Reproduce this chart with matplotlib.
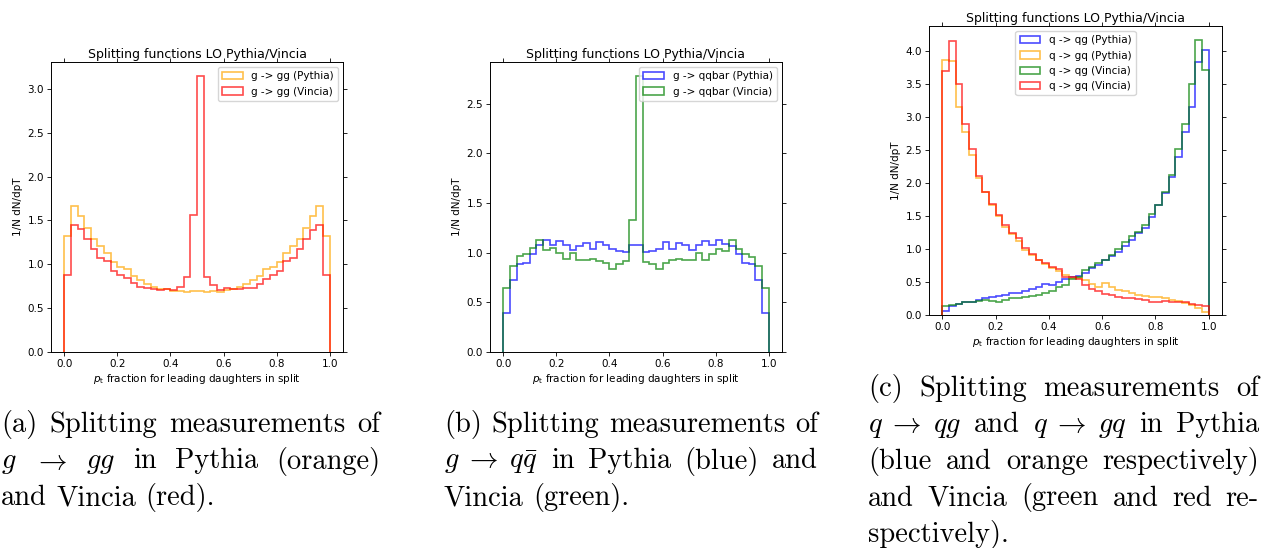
import numpy as np
import matplotlib
matplotlib.use("Agg")
import matplotlib.pyplot as plt
from matplotlib.ticker import MultipleLocator

# 40 bins in pt fraction
edges = np.linspace(0.0, 1.0, 41)
centers = 0.5 * (edges[:-1] + edges[1:])

# (a) g -> gg
gg_pythia = [1.32, 1.67, 1.55, 1.41, 1.29, 1.21, 1.13, 1.03, 0.97, 0.95,
             0.87, 0.82, 0.78, 0.74, 0.72, 0.72, 0.70, 0.70, 0.69, 0.70,
             0.70, 0.69, 0.70, 0.69, 0.71, 0.72, 0.74, 0.78, 0.82, 0.87,
             0.95, 0.97, 1.03, 1.13, 1.21, 1.29, 1.41, 1.55, 1.67, 1.32]
gg_vincia = [0.88, 1.45, 1.40, 1.29, 1.18, 1.07, 1.04, 0.92, 0.88, 0.84,
             0.79, 0.74, 0.73, 0.72, 0.71, 0.72, 0.71, 0.74, 0.85, 1.56,
             3.15, 0.85, 0.76, 0.71, 0.73, 0.72, 0.72, 0.73, 0.73, 0.78,
             0.83, 0.88, 0.92, 1.04, 1.07, 1.17, 1.29, 1.39, 1.45, 0.88]

# (b) g -> qqbar
qq_pythia = [0.39, 0.72, 0.89, 0.90, 0.99, 1.08, 1.13, 1.08, 1.12, 1.08,
             1.03, 1.07, 1.10, 1.04, 1.11, 1.08, 1.04, 1.02, 1.01, 1.08,
             1.08, 1.01, 1.02, 1.04, 1.11, 1.04, 1.10, 1.08, 1.03, 1.08,
             1.12, 1.08, 1.13, 1.09, 1.07, 0.99, 0.90, 0.89, 0.72, 0.39]
qq_vincia = [0.64, 0.87, 0.97, 0.99, 1.05, 1.13, 1.03, 1.05, 1.00, 0.94,
             1.00, 0.93, 0.93, 0.94, 0.92, 0.90, 0.84, 0.89, 0.92, 1.33,
             2.78, 0.91, 0.89, 0.84, 0.90, 0.93, 0.94, 0.93, 0.93, 1.00,
             0.93, 0.99, 1.04, 1.02, 1.13, 1.04, 0.99, 0.96, 0.87, 0.64]

# (c) q -> qg / q -> gq
qg_pythia = [0.06, 0.14, 0.16, 0.19, 0.20, 0.23, 0.25, 0.27, 0.29, 0.30,
             0.33, 0.34, 0.36, 0.40, 0.42, 0.47, 0.45, 0.50, 0.54, 0.57,
             0.59, 0.64, 0.71, 0.76, 0.83, 0.89, 0.95, 1.05, 1.14, 1.24,
             1.32, 1.48, 1.67, 1.85, 2.09, 2.40, 2.77, 3.15, 3.83, 4.01]
gq_pythia = [3.87, 3.85, 3.15, 2.78, 2.42, 2.08, 1.86, 1.67, 1.50, 1.33,
             1.23, 1.12, 0.98, 0.91, 0.83, 0.77, 0.71, 0.66, 0.60, 0.56,
             0.56, 0.53, 0.47, 0.43, 0.48, 0.42, 0.38, 0.36, 0.34, 0.31,
             0.29, 0.28, 0.28, 0.25, 0.23, 0.21, 0.18, 0.15, 0.11, 0.05]
qg_vincia = [0.13, 0.15, 0.17, 0.19, 0.20, 0.21, 0.22, 0.21, 0.20, 0.23,
             0.25, 0.26, 0.28, 0.29, 0.31, 0.34, 0.37, 0.43, 0.46, 0.55,
             0.57, 0.68, 0.73, 0.79, 0.84, 0.91, 1.00, 1.11, 1.19, 1.26,
             1.36, 1.53, 1.67, 1.86, 2.12, 2.51, 2.90, 3.50, 4.17, 3.71]
gq_vincia = [3.70, 4.15, 3.50, 2.90, 2.51, 2.11, 1.86, 1.68, 1.52, 1.37,
             1.24, 1.17, 1.01, 0.92, 0.84, 0.79, 0.72, 0.70, 0.58, 0.57,
             0.55, 0.46, 0.40, 0.36, 0.32, 0.31, 0.28, 0.26, 0.25, 0.24,
             0.22, 0.19, 0.20, 0.21, 0.20, 0.19, 0.19, 0.17, 0.15, 0.13]

W, H = 1266, 548
fig = plt.figure(figsize=(W / 100, H / 100), dpi=100)

FS = 7.5


def panel(box, series, loc):
    l, t, r, b = box
    ax = fig.add_axes([l / W, 1 - b / H, (r - l) / W, (b - t) / H])
    for vals, col, lab in series:
        ax.hist(centers, bins=edges, weights=vals, histtype='step',
                color=col, alpha=0.7, lw=1.2, label=lab)
    ax.set_title('Splitting functions LO Pythia/Vincia', fontsize=9, pad=3)
    ax.set_xlabel(r'$p_\mathrm{t}$ fraction for leading daughters in split',
                  fontsize=FS, labelpad=2)
    ax.set_ylabel('1/N dN/dpT', fontsize=FS, labelpad=3)
    ax.xaxis.set_major_locator(MultipleLocator(0.2))
    ax.yaxis.set_major_locator(MultipleLocator(0.5))
    ax.tick_params(labelsize=FS, length=3, width=0.6, pad=2,
                   top=True, right=True)
    for s in ax.spines.values():
        s.set_linewidth(0.7)
    ax.legend(loc=loc, fontsize=FS)
    return ax


panel((51, 62, 343, 352),
      [(gg_pythia, 'orange', 'g -> gg (Pythia)'),
       (gg_vincia, 'red', 'g -> gg (Vincia)')], 'upper right')
panel((490, 62, 782, 352),
      [(qq_pythia, 'blue', 'g -> qqbar (Pythia)'),
       (qq_vincia, 'green', 'g -> qqbar (Vincia)')], 'upper right')
panel((929, 26, 1222, 315),
      [(qg_pythia, 'blue', 'q -> qg (Pythia)'),
       (gq_pythia, 'orange', 'q -> gq (Pythia)'),
       (qg_vincia, 'green', 'q -> qg (Vincia)'),
       (gq_vincia, 'red', 'q -> gq (Vincia)')], 'upper center')

# captions, LaTeX-like
CAP = 20.5
renderer = fig.canvas.get_renderer()


def caption_line(words, x0, x1, y, justify):
    ts = [fig.text(0, 0, w, fontsize=CAP, family='cmr10',
                   math_fontfamily='cm', va='baseline') for w in words]
    widths = [t.get_window_extent(renderer).width for t in ts]
    if justify and len(ts) > 1:
        gap = (x1 - x0 - sum(widths)) / (len(ts) - 1)
    else:
        gap = CAP * 100 / 72 * 0.333
    x = x0
    for t, w in zip(ts, widths):
        t.set_position((x / W, 1 - y / H))
        x += w + gap


arrow = r'\;\rightarrow\;'
cap_a = [(['(a)', 'Splitting', 'measurements', 'of'], True),
         (['$g$', r'$\rightarrow$', '$gg$', 'in', 'Pythia', '(orange)'], True),
         (['and', 'Vincia', '(red).'], False)]
cap_b = [(['(b)', 'Splitting', 'measurements', 'of'], True),
         ([r'$g' + arrow + r'q\bar{q}$', 'in', 'Pythia', '(blue)', 'and'], True),
         (['Vincia', '(green).'], False)]
cap_c = [(['(c)', 'Splitting', 'measurements', 'of'], True),
         ([r'$q' + arrow + 'qg$', 'and', r'$q' + arrow + 'gq$', 'in', 'Pythia'], True),
         (['(blue', 'and', 'orange', 'respectively)'], True),
         (['and', 'Vincia', '(green', 'and', 'red', 're-'], True),
         (['spectively).'], False)]

for cap, x0, x1, y0 in [(cap_a, 1, 380, 432), (cap_b, 444, 818, 432),
                        (cap_c, 868, 1259, 396)]:
    for i, (words, just) in enumerate(cap):
        caption_line(words, x0, x1, y0 + 36.5 * i, just)

fig.savefig('out.png', dpi=100)
